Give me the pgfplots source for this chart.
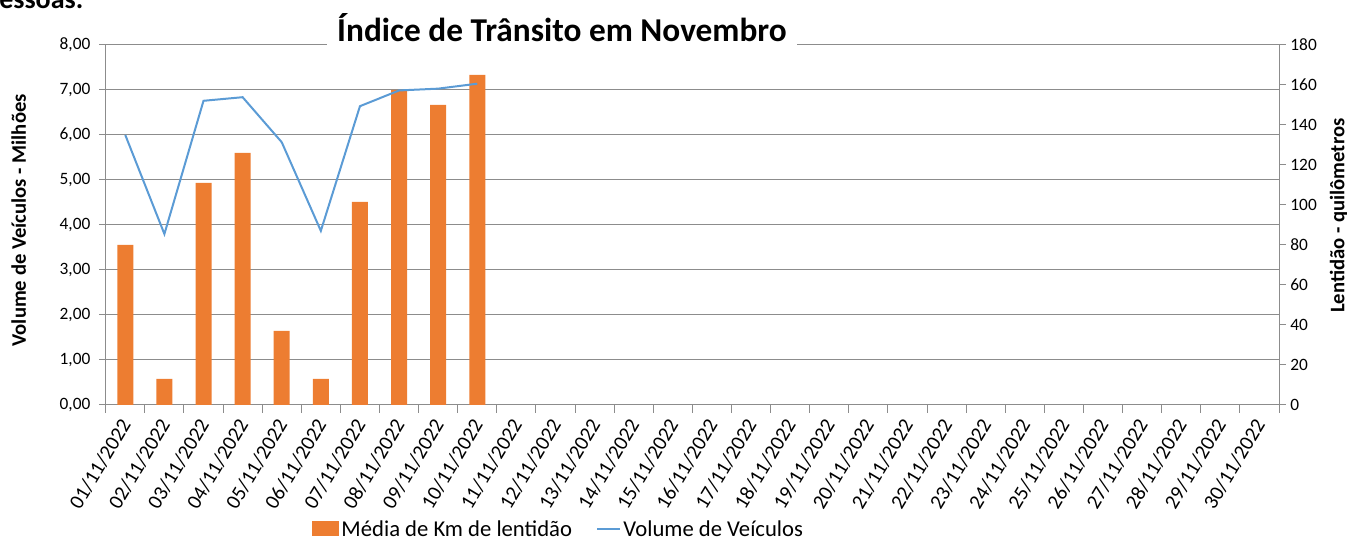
\documentclass[border=0pt]{standalone}
\usepackage{fontspec}
\setmainfont{Carlito}
\usepackage{pgfplots}
\pgfplotsset{compat=1.18}
\definecolor{barorange}{HTML}{ED7D31}
\definecolor{lineblue}{HTML}{5B9BD5}
\definecolor{gridgray}{HTML}{8C8C8C}
\begin{document}
\begin{tikzpicture}[x=1pt,y=1pt]
\clip (0,0) rectangle (1010.25,405.75);
\pgfplotsset{
  base/.style={scale only axis, width=880pt, height=270pt,
    at={(79.3pt,102pt)}, anchor=south west, xmin=0.5, xmax=30.5,
    /pgf/number format/assume math mode=true},
}
% axis 1: left axis, grid, date labels
\begin{axis}[base, ymin=0, ymax=8, ytick={0,1,...,8},
  ymajorgrids, major grid style={gridgray, line width=0.75pt},
  axis y line*=left, axis x line*=bottom,
  axis line style={gridgray, line width=0.75pt},
  tick align=outside, major tick length=5pt, minor tick length=6pt,
  major x tick style={draw=none},
  major y tick style={gridgray, line width=0.75pt},
  minor x tick style={gridgray, line width=0.75pt},
  xtick={1,...,30},
  minor xtick={0.5,1.5,...,30.5},
  xticklabels={01/11/2022,02/11/2022,03/11/2022,04/11/2022,05/11/2022,06/11/2022,07/11/2022,08/11/2022,09/11/2022,10/11/2022,11/11/2022,12/11/2022,13/11/2022,14/11/2022,15/11/2022,16/11/2022,17/11/2022,18/11/2022,19/11/2022,20/11/2022,21/11/2022,22/11/2022,23/11/2022,24/11/2022,25/11/2022,26/11/2022,27/11/2022,28/11/2022,29/11/2022,30/11/2022},
  x tick label style={yshift=-6pt, xshift=1pt, rotate=59, anchor=east, font=\fontsize{15.5}{17}\selectfont, inner sep=1pt},
  y tick label style={font=\fontsize{13}{15}\selectfont, xshift=-3pt,
    /pgf/number format/.cd, fixed, fixed zerofill, precision=2, use comma},
  ]
  \addplot[draw=none] coordinates {(1,0)};
\end{axis}
% axis 2: right axis, bars (km)
\begin{axis}[base, ymin=0, ymax=180, ytick={0,20,...,180},
  axis y line*=right, axis x line=none,
  axis line style={gridgray, line width=0.75pt},
  tick align=outside, major tick length=5pt,
  major y tick style={gridgray, line width=0.75pt},
  y tick label style={font=\fontsize{13}{15}\selectfont},
  ]
  \addplot[ybar, bar width=12pt, bar shift=0pt, fill=barorange, draw=none]
    coordinates {(1,80) (2,13) (3,111) (4,126) (5,37) (6,13) (7,101.5) (8,157.5) (9,150) (10,165)};
\end{axis}
% axis 3: line (millions), legend
\begin{axis}[base, ymin=0, ymax=8, hide axis,
  legend style={at={(0.386,-0.345)}, anchor=center, draw=none, fill=none,
    font=\fontsize{17}{19}\selectfont, legend columns=2,
    /tikz/every even column/.append style={column sep=16pt}},
  legend cell align=left,
  ]
  \addlegendimage{legend image code/.code={\fill[barorange] (-1pt,-4.5pt) rectangle (19pt,6pt);}}
  \addlegendentry{Média de Km de lentidão}
  \addplot[lineblue, line width=1.5pt, mark=none]
    coordinates {(1,6.00) (2,3.80) (3,6.76) (4,6.84) (5,5.84) (6,3.87) (7,6.64) (8,6.99) (9,7.03) (10,7.14)};
  \addlegendentry{Volume de Veículos}
\end{axis}
% title
\node[fill=white, inner xsep=8pt, inner ysep=3pt, font=\bfseries\fontsize{25}{27}\selectfont]
  at (421.5,385) {Índice de Trânsito em Novembro};
% axis titles
\node[rotate=90, font=\bfseries\fontsize{15.5}{17}\selectfont] at (14,240.5) {Volume de Veículos - Milhões};
\node[rotate=90, font=\bfseries\fontsize{15.5}{17}\selectfont] at (1004,244) {Lentidão - quilômetros};
% cropped text from above
\node[anchor=base west, inner sep=0pt, font=\bfseries\fontsize{21}{24}\selectfont] at (-12,399) {pessoas.};
\end{tikzpicture}
\end{document}
